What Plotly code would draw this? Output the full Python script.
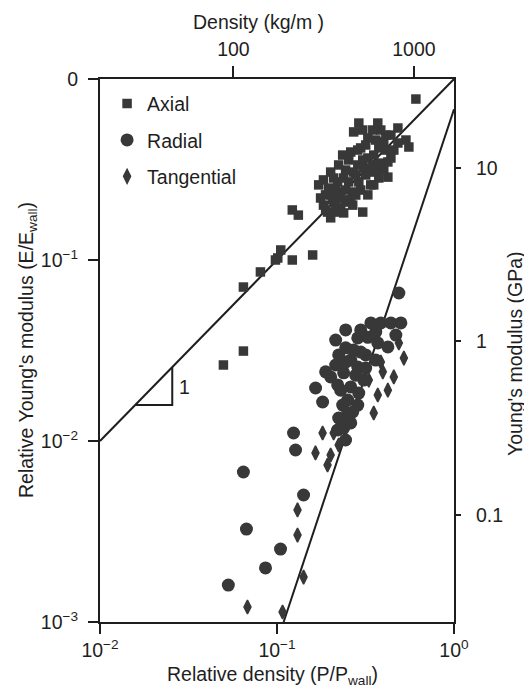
import plotly.graph_objects as go

# ---------------- data ----------------
axial_x = [0.609, 0.290, 0.371, 0.482, 0.535, 0.556, 0.440, 0.423, 0.339, 0.352,
           0.326, 0.305, 0.251, 0.238, 0.201, 0.183, 0.172, 0.183, 0.201, 0.235,
           0.261, 0.297, 0.271, 0.326, 0.401, 0.440, 0.482, 0.376, 0.326, 0.286,
           0.244, 0.220, 0.254, 0.290, 0.201, 0.229, 0.268, 0.2145, 0.193, 0.229,
           0.188, 0.386, 0.423, 0.352, 0.305, 0.244, 0.2785, 0.361, 0.412, 0.317,
           0.2145, 0.261,
           0.1883, 0.2063, 0.2231, 0.2444, 0.2785, 0.1958, 0.209, 0.2382, 0.2713,
           0.3091, 0.3477, 0.2231, 0.2542, 0.2858, 0.317, 0.3614, 0.4119, 0.3051,
           0.3477, 0.3858, 0.4571, 0.4012, 0.3759, 0.3386, 0.2972, 0.2678, 0.2145,
           0.1763,
           0.122, 0.132, 0.159, 0.122, 0.105, 0.098, 0.101, 0.0806, 0.0646,
           0.0646, 0.0498]
axial_y = [0.775, 0.571, 0.571, 0.536, 0.460, 0.421, 0.366, 0.287, 0.306, 0.260,
           0.229, 0.184, 0.209, 0.182, 0.171, 0.201, 0.260, 0.277, 0.306, 0.380,
           0.395, 0.416, 0.510, 0.472, 0.449, 0.490, 0.443, 0.416, 0.366, 0.335,
           0.314, 0.270, 0.270, 0.270, 0.229, 0.2375, 0.2375, 0.201, 0.184, 0.194,
           0.229, 0.343, 0.348, 0.380, 0.357, 0.2435, 0.295, 0.314, 0.405, 0.295,
           0.2435, 0.215,
           0.189, 0.2146, 0.2201, 0.2146, 0.2286, 0.2498, 0.2838, 0.2838, 0.306,
           0.3222, 0.335, 0.335, 0.357, 0.405, 0.432, 0.460, 0.490, 0.5226,
           0.5226, 0.5226, 0.405, 0.314, 0.2838, 0.260, 0.2435, 0.201, 0.184,
           0.2201,
           0.189, 0.177, 0.1066, 0.100, 0.1136, 0.100, 0.1026, 0.0859, 0.0709,
           0.0314, 0.0263]

radial_x = [0.488, 0.2145, 0.1652, 0.181, 0.124, 0.1273, 0.0646, 0.1413, 0.0672,
            0.1047, 0.0861, 0.0531,
            0.339, 0.386, 0.440, 0.501, 0.286, 0.326, 0.371, 0.423, 0.271, 0.201,
            0.238, 0.286, 0.261, 0.309, 0.261, 0.251, 0.251, 0.229, 0.261, 0.220,
            0.317, 0.361, 0.229, 0.286, 0.244,
            0.2444, 0.2972, 0.3614, 0.4693, 0.2231, 0.2444, 0.2972, 0.2145, 0.2444,
            0.317, 0.1883, 0.2202, 0.2785, 0.2896, 0.235, 0.2678, 0.2382, 0.2231]
radial_y = [0.0657, 0.0361, 0.01963, 0.01642, 0.01107, 0.00892, 0.00674, 0.00503,
            0.00326, 0.00253, 0.00199, 0.00160,
            0.0449, 0.0449, 0.0449, 0.0449, 0.0371, 0.0374, 0.0348, 0.0331, 0.0318,
            0.0226, 0.0238, 0.0256, 0.0280, 0.0217, 0.0199, 0.01685, 0.01428,
            0.01306, 0.01258, 0.0115, 0.0299, 0.0280, 0.0191, 0.0158, 0.01013,
            0.0411, 0.0411, 0.0400, 0.0385, 0.0299, 0.0327, 0.0310, 0.0263, 0.0273,
            0.0253, 0.0241, 0.0204, 0.0231, 0.0184, 0.0158, 0.01446, 0.0118, 0.0134]

tangential_x = [0.488, 0.521, 0.386, 0.396, 0.457, 0.423, 0.371, 0.352, 0.181,
                0.165, 0.193, 0.1306, 0.1306, 0.1413, 0.0681, 0.1075, 0.209,
                0.2231, 0.201, 0.330]
tangential_y = [0.0348, 0.0287, 0.0273, 0.0241, 0.0226, 0.0191, 0.01795, 0.01428,
                0.01107, 0.00859, 0.00737, 0.00416, 0.00302, 0.00177, 0.00121,
                0.001136, 0.01107, 0.0095, 0.00837, 0.0217]

# fitted lines and slope triangle
line1_x = [0.01, 1.0]
line1_y = [0.01, 1.0]
line2_x = [0.109, 1.0]
line2_y = [0.001, 0.68]
tri_x = [0.0158, 0.0256, 0.0256]
tri_y = [0.0158, 0.0158, 0.0256]

y_tickvals = [0.001, 0.01, 0.1, 1]
y_ticktext = ["10<sup>−3</sup>", "10<sup>−2</sup>", "10<sup>−1</sup>", "0"]
x_tickvals = [0.01, 0.1, 1]
x_ticktext = ["10<sup>−2</sup>", "10<sup>−1</sup>", "10<sup>0</sup>"]
top_tickvals = [100, 1000]
top_ticktext = ["100", "1000"]
right_tickvals = [0.1, 1, 10]
right_ticktext = ["0.1", "1", "10"]

# ---------------- figure ----------------
FONT = "Liberation Sans, Arial, Helvetica, sans-serif"
FS = 19.5
INK = "#1e1e1e"
MARK = "#383838"

fig = go.Figure()

for lx, ly in [(line1_x, line1_y), (line2_x, line2_y), (tri_x, tri_y)]:
    fig.add_trace(go.Scatter(x=lx, y=ly, mode="lines",
                             line=dict(color=INK, width=2), showlegend=False,
                             hoverinfo="skip"))

fig.add_trace(go.Scatter(x=axial_x, y=axial_y, mode="markers", name="Axial",
                         legendgroup="a",
                         marker=dict(symbol="square", size=9.5, color=MARK,
                                     line=dict(width=0))))
fig.add_trace(go.Scatter(x=radial_x, y=radial_y, mode="markers", name="Radial",
                         legendgroup="r",
                         marker=dict(symbol="circle", size=13, color=MARK,
                                     line=dict(width=0))))
fig.add_trace(go.Scatter(x=tangential_x, y=tangential_y, mode="markers",
                         name="Tangential", legendgroup="t",
                         marker=dict(symbol="diamond-tall", size=10, color=MARK,
                                     line=dict(width=1.5, color=MARK))))

# invisible trace to carry the secondary (top / right) axes
fig.add_trace(go.Scatter(x=[500], y=[1], xaxis="x2", yaxis="y2", mode="markers",
                         marker=dict(opacity=0), showlegend=False,
                         hoverinfo="skip"))

axis_common = dict(showgrid=False, zeroline=False, showline=True,
                   linecolor=INK, linewidth=2, ticks="outside",
                   tickcolor=INK, tickwidth=2,
                   tickfont=dict(family=FONT, size=FS, color=INK))

# the page body adds an 8px offset, so the figure is 8px smaller
fig.update_layout(
    width=524, height=680,
    margin=dict(l=92, r=78, t=71, b=66),
    paper_bgcolor="white", plot_bgcolor="white",
    font=dict(family=FONT, size=FS, color=INK),
    xaxis=dict(type="log", range=[-2, 0], tickvals=x_tickvals,
               ticktext=x_ticktext, ticklen=10, **axis_common),
    yaxis=dict(type="log", range=[-3, 0], tickvals=y_tickvals,
               ticktext=y_ticktext, ticklen=10, ticklabelstandoff=6,
               **axis_common),
    xaxis2=dict(type="log", overlaying="x", side="top",
                range=[1.261, 3.222], tickvals=top_tickvals,
                ticktext=top_ticktext, ticklen=11, ticklabelstandoff=2,
                **axis_common),
    yaxis2=dict(type="log", overlaying="y", side="right",
                range=[-1.617, 1.513], tickvals=right_tickvals,
                ticktext=right_ticktext, ticklen=5, ticklabelstandoff=11,
                **axis_common),
    legend=dict(x=0.02, y=0.99, xanchor="left", yanchor="top",
                bgcolor="rgba(0,0,0,0)", tracegroupgap=8,
                traceorder="grouped",
                font=dict(family=FONT, size=FS, color=INK)),
    showlegend=True,
)

annots = [
    dict(text="Relative density (P/P<sub>wall</sub>)", x=(272 - 100) / 354,
         y=(622 - 675) / 543, textangle=0),
    dict(text="Relative Young's modulus (E/E<sub>wall</sub>)", x=(28 - 100) / 354,
         y=(622 - 350) / 543, textangle=-90),
    dict(text="Young's modulus (GPa)", x=(515 - 100) / 354,
         y=(622 - 353) / 543, textangle=-90),
    dict(text="Density (kg/m )", x=(258 - 100) / 354,
         y=(622 - 22) / 543, textangle=0),
]
for a in annots:
    fig.add_annotation(xref="paper", yref="paper", showarrow=False,
                       xanchor="center", yanchor="middle",
                       font=dict(family=FONT, size=FS, color=INK), **a)

fig.add_annotation(x=-1.52, y=-1.70, xref="x", yref="y", text="1",
                   showarrow=False, font=dict(family=FONT, size=FS, color=INK))

fig.write_html("out.html")
